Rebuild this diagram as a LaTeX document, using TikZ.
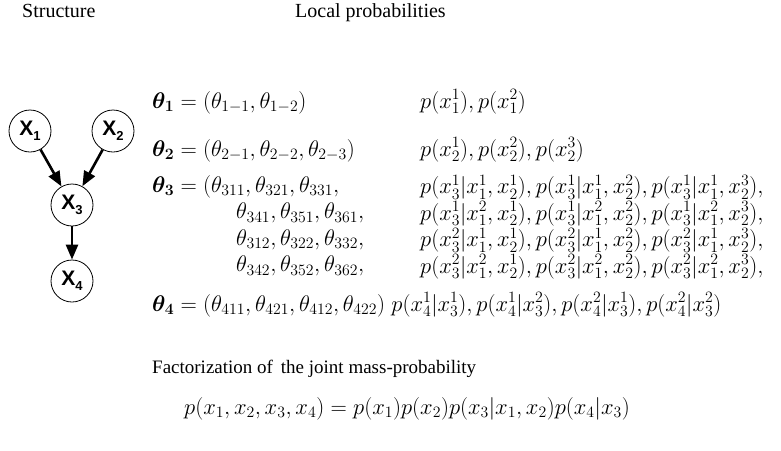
\RequirePackage{fix-cm}
\documentclass[tikz,border=0pt]{standalone}
\usepackage{amsmath}
\usepackage[no-math]{fontspec}
\setmainfont{Liberation Serif}
\newfontfamily\nodefont{Liberation Sans}
\usetikzlibrary{arrows.meta}
\tikzset{
  rv/.style={circle,draw,line width=0.8pt,minimum size=42pt,inner sep=0pt,
    font=\fontsize{21}{21}\selectfont\nodefont\bfseries},
  arr/.style={line width=2.6pt,-{Triangle[length=15pt,width=12pt]}},
  hdr/.style={anchor=base west,inner sep=0pt,font=\fontsize{20}{24}\selectfont},
  mth/.style={anchor=base west,inner sep=0pt,font=\fontsize{22.6}{26.5}\selectfont},
  blk/.style={anchor=north west,inner sep=0pt,align=left,font=\fontsize{22.6}{26.5}\selectfont},
}
\newcommand{\xlab}[1]{X\raisebox{-5pt}{\fontsize{13}{13}\selectfont #1}}
\begin{document}
\begin{tikzpicture}[x=1pt,y=-1pt]
\useasboundingbox (0,0) rectangle (781,450);
\node[hdr] (hs) at (22,17) {Structure};
\node[hdr] (hl) at (295,17) {Local probabilities};
% graph
\node[rv] (x1) at (30,131) {\xlab{1}};
\node[rv] (x2) at (113,131) {\xlab{2}};
\node[rv] (x3) at (72,205) {\xlab{3}};
\node[rv] (x4) at (72,281) {\xlab{4}};
\draw[arr] (x1) -- (x3);
\draw[arr] (x2) -- (x3);
\draw[arr] (x3) -- (x4);
% parameters
\node[mth] (t1) at (152,108) {$\boldsymbol{\theta_1}=(\theta_{1-1},\theta_{1-2})$};
\node[mth] (p1) at (420,108) {$p(x_1^1),p(x_1^2)$};
\node[mth] (t2) at (152,156) {$\boldsymbol{\theta_2}=(\theta_{2-1},\theta_{2-2},\theta_{2-3})$};
\node[mth] (p2) at (420,156) {$p(x_2^1),p(x_2^2),p(x_2^3)$};
\node[blk] (t3) at (152,175) {$\boldsymbol{\theta_3}=(\theta_{311},\theta_{321},\theta_{331},$\\
  \hspace{84pt}$\theta_{341},\theta_{351},\theta_{361},$\\
  \hspace{84pt}$\theta_{312},\theta_{322},\theta_{332},$\\
  \hspace{84pt}$\theta_{342},\theta_{352},\theta_{362},$};
\node[blk] (p3) at (420,175) {$p(x_3^1|x_1^1,x_2^1),p(x_3^1|x_1^1,x_2^2),p(x_3^1|x_1^1,x_2^3),$\\
  $p(x_3^1|x_1^2,x_2^1),p(x_3^1|x_1^2,x_2^2),p(x_3^1|x_1^2,x_2^3),$\\
  $p(x_3^2|x_1^1,x_2^1),p(x_3^2|x_1^1,x_2^2),p(x_3^2|x_1^1,x_2^3),$\\
  $p(x_3^2|x_1^2,x_2^1),p(x_3^2|x_1^2,x_2^2),p(x_3^2|x_1^2,x_2^3),$};
\node[mth] (t4) at (152,311) {$\boldsymbol{\theta_4}=(\theta_{411},\theta_{421},\theta_{412},\theta_{422})$};
\node[mth,xshift=6pt] (p4) at (t4.base east) {$p(x_4^1|x_3^1),p(x_4^1|x_3^2),p(x_4^2|x_3^1),p(x_4^2|x_3^2)$};
% factorization
\node[hdr,font=\fontsize{19}{23}\selectfont] (fh) at (152,373) {Factorization of\, the joint mass-probability};
\node[mth] (fm) at (184,414) {$p(x_1,x_2,x_3,x_4)=p(x_1)p(x_2)p(x_3|x_1,x_2)p(x_4|x_3)$};
\end{tikzpicture}
\end{document}
